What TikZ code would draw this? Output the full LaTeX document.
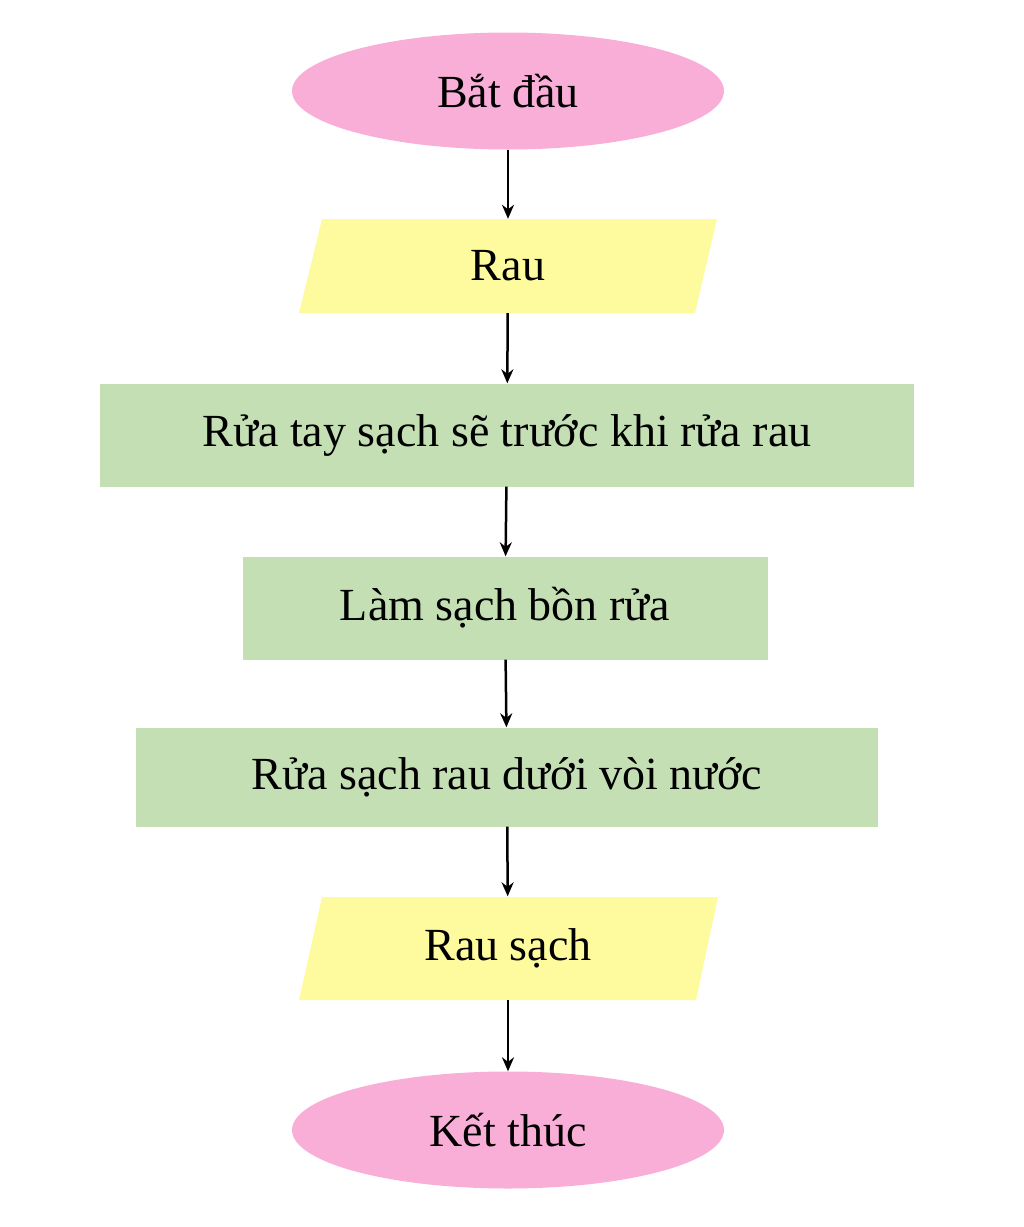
\documentclass[tikz,border=0pt]{standalone}
\usepackage{fontspec}
\setmainfont{Liberation Serif}
\usetikzlibrary{shapes.geometric,arrows.meta}
\definecolor{pinkc}{HTML}{F9AED8}
\definecolor{yelc}{HTML}{FDFB9E}
\definecolor{grnc}{HTML}{C5DFB4}
\tikzset{
  txt/.style={font=\fontsize{46}{50}\selectfont, inner sep=0pt},
  oval/.style={txt, ellipse, fill=pinkc, minimum width=432pt, minimum height=117pt},
  io/.style={txt, minimum width=396pt, minimum height=#1},
  proc/.style={txt, rectangle, fill=grnc, minimum height=#1},
  arr/.style={-{Stealth[length=14pt,width=12pt]}, line width=2.5pt}
}
\begin{document}
\begin{tikzpicture}[x=1pt,y=-1pt]
\useasboundingbox (0,0) rectangle (1024,1227);
\fill[yelc] (322,219) -- (717,219) -- (695,313) -- (299,313) -- cycle;
\fill[yelc] (322,897) -- (718,897) -- (696,1000) -- (299,1000) -- cycle;
\node[oval] (start) at (508,91) {Bắt đầu};
\node[io=94pt] (rau) at (508,266) {Rau};
\node[proc=103pt, minimum width=814pt] (p1) at (507,435) {Rửa tay sạch sẽ trước khi rửa rau};
\node[proc=103pt, minimum width=525pt] (p2) at (505,608) {Làm sạch bồn rửa};
\node[proc=99pt, minimum width=742pt] (p3) at (507,777) {Rửa sạch rau dưới vòi nước};
\node[io=103pt] (raus) at (508,948) {Rau sạch};
\node[oval] (end) at (508,1130) {Kết thúc};
\draw[arr] (start) -- (rau);
\draw[arr] (rau) -- (p1);
\draw[arr] (p1) -- (p2);
\draw[arr] (p2) -- (p3);
\draw[arr] (p3) -- (raus);
\draw[arr] (raus) -- (end);
\end{tikzpicture}
\end{document}
